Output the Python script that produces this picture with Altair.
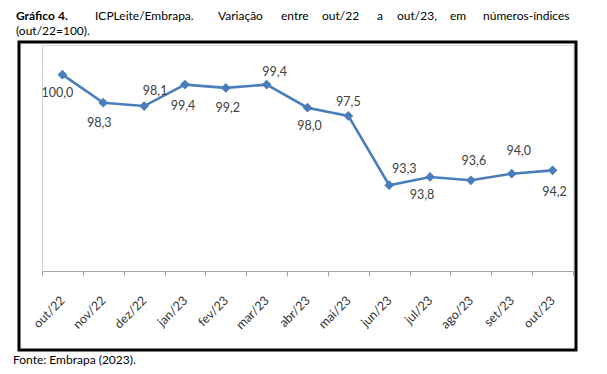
import altair as alt
import pandas as pd

meses = ["out/22", "nov/22", "dez/22", "jan/23", "fev/23", "mar/23", "abr/23",
         "mai/23", "jun/23", "jul/23", "ago/23", "set/23", "out/23"]
indice = [100.0, 98.3, 98.1, 99.4, 99.2, 99.4, 98.0, 97.5, 93.3, 93.8, 93.6, 94.0, 94.2]

titulo_l1 = [("Gráfico", "bold"), ("4.", "bold"), ("ICPLeite/Embrapa.", "normal"),
             ("Variação", "normal"), ("entre", "normal"), ("out/22", "normal"),
             ("a", "normal"), ("out/23,", "normal"), ("em", "normal"),
             ("números-índices", "normal")]
titulo_l2 = "(out/22=100)."
fonte = "Fonte: Embrapa (2023)."

df = pd.DataFrame({"mes": meses, "indice": indice})
df["rotulo"] = [f"{v:.1f}".replace(".", ",") for v in indice]

# label nudges (style only): (dx, dy) in pixels relative to each marker
label_nudges = [(-5, 18), (-4, 20), (11, -15), (-2, 21), (2, 20), (8, -13), (2, 18),
                (0, -14), (15, -16), (-8, 18), (3, -19), (7, -23), (2, 22)]
word_x = [-26, 16, 53, 176, 239, 280, 335, 355, 408, 441]

BLUE = "#4a7ebb"
FONT = "Lato"

xenc = alt.X("mes:N", sort=meses, bandPosition=0.5,
             scale=alt.Scale(type="band", paddingInner=0, paddingOuter=0),
             axis=alt.Axis(title=None, labelAngle=-45, labelAlign="right",
                           labelBaseline="middle", labelFont=FONT, labelFontSize=12.5,
                           labelColor="#333333", labelPadding=22, labelOverlap=False,
                           labelBound=False, tickBand="extent", tickSize=5,
                           tickColor="#a6a6a6", domainColor="#a6a6a6", grid=False))
yenc = alt.Y("indice:Q",
             scale=alt.Scale(domain=[88.1, 101.8], nice=False, zero=False),
             axis=alt.Axis(title=None, labels=False, ticks=False, grid=False,
                           domainColor="#d0d0d0"))

base = alt.Chart(df).encode(x=xenc, y=yenc)
line = base.mark_line(color=BLUE, strokeWidth=2.6)
pts = base.mark_point(shape="diamond", filled=True, size=95, color=BLUE, opacity=1)

layers = [line, pts]
for m, (dx, dy) in zip(meses, label_nudges):
    layers.append(
        base.transform_filter(alt.datum.mes == m)
        .mark_text(font=FONT, fontSize=12.5, color="#404040", dx=dx, dy=dy,
                   baseline="middle", align="center")
        .encode(text="rotulo:N")
    )

one = pd.DataFrame({"k": [0]})
box = alt.Chart(one).mark_rect(filled=False, stroke="black", strokeWidth=3).encode(
    x=alt.value(-23), x2=alt.value(534), y=alt.value(-3), y2=alt.value(305))
layers.append(box)

for (w, wt), xv in zip(titulo_l1, word_x):
    layers.append(
        alt.Chart(one).mark_text(text=w, font=FONT, fontSize=12, fontWeight=wt,
                                 color="black", align="left", baseline="alphabetic")
        .encode(x=alt.value(xv), y=alt.value(-25))
    )
layers.append(
    alt.Chart(one).mark_text(text=titulo_l2, font=FONT, fontSize=12, color="black",
                             align="left", baseline="alphabetic")
    .encode(x=alt.value(-26), y=alt.value(-10))
)
layers.append(
    alt.Chart(one).mark_text(text=fonte, font=FONT, fontSize=12, color="black",
                             align="left", baseline="alphabetic")
    .encode(x=alt.value(-29), y=alt.value(319))
)

chart = alt.layer(*layers).properties(
    width=531, height=226,
    autosize=alt.AutoSizeParams(type="none"),
    padding={"left": 34, "top": 37, "right": 26, "bottom": 95},
).configure_view(stroke=None).configure(background="white")

chart.save("out.html", embed_options={"renderer": "svg", "actions": False})
